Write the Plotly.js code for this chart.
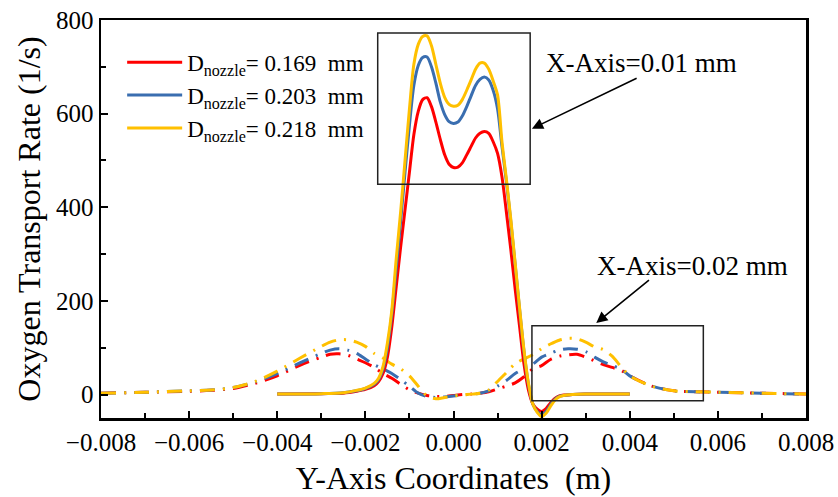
<!DOCTYPE html>
<html>
<head>
<meta charset="utf-8">
<script src="https://cdn.plot.ly/plotly-3.0.1.min.js"></script>
<style>html,body{margin:0;padding:0;background:#fff;}#chart{width:838px;height:497px;}</style>
</head>
<body>
<div id="chart"></div>
<script>
// ---- Data: X-Axis = 0.01 mm (solid curves) ----
var xNear = [-0.004,-0.003,-0.0025,-0.0022,-0.002,-0.0018,-0.0017,-0.0016,-0.0015,-0.0014,-0.0013,-0.0012,-0.0011,-0.001,-0.0009,-0.0008,-0.0007,-0.0006,-0.0005,-0.0004,-0.0003,-0.0002,-0.0001,0,0.0001,0.0002,0.0003,0.0004,0.0005,0.0006,0.0007,0.0008,0.0009,0.001,0.0011,0.0012,0.0013,0.0014,0.0015,0.0016,0.0017,0.0018,0.0019,0.002,0.0021,0.0022,0.0023,0.0024,0.0025,0.0027,0.003,0.004];
var red169Near = [1,2,3,7,11,19,28,45,80,145,230,315,395,475,555,605,630,634,615,582,545,512,492,485,486,495,512,530,548,558,562,558,540,515,465,390,310,225,145,65,10,-20,-31,-36,-30,-18,-8,-3,-1,0,1,1];
var blue203Near = [1,2,4,8,13,22,32,55,100,172,270,370,475,575,660,703,720,721,700,665,625,598,583,579,582,595,615,638,660,673,678,672,650,610,530,455,370,277,182,92,22,-20,-36,-43,-36,-22,-10,-4,-2,0,1,1];
var yellow218Near = [1,2,4,9,14,24,35,60,110,180,290,390,500,610,705,748,765,766,745,705,665,635,620,616,618,630,650,672,695,708,708,695,670,640,540,460,375,280,185,95,25,-20,-38,-47,-40,-25,-12,-5,-2,0,1,1];

// ---- Data: X-Axis = 0.02 mm (dash-dot curves) ----
var xFar = [-0.008,-0.007,-0.006,-0.0055,-0.005,-0.0045,-0.004,-0.0035,-0.003,-0.0028,-0.0026,-0.0024,-0.0022,-0.002,-0.0018,-0.0016,-0.0014,-0.0012,-0.001,-0.0008,-0.0006,-0.0004,-0.0002,0,0.0002,0.0004,0.0006,0.0008,0.001,0.0012,0.0014,0.0016,0.0018,0.002,0.0022,0.0024,0.0026,0.0028,0.003,0.0032,0.0034,0.0036,0.0038,0.004,0.0045,0.005,0.0055,0.006,0.007,0.008];
var red169Far = [3,5,7,9,13,24,40,62,80,86,87,84,76,68,58,45,35,22,10,3,-2,-4,-4,-2,0,1,3,6,12,18,25,38,55,62,75,82,85,86,80,72,64,58,52,40,18,8,6,5,3,1];
var blue203Far = [3,5,8,10,15,27,45,67,88,95,98,95,88,76,64,55,45,32,18,3,-4,-6,-5,-3,-1,1,3,8,18,30,45,55,65,80,88,95,98,97,92,80,70,62,55,40,18,8,6,5,3,1];
var yellow218Far = [3,5,8,10,15,28,50,77,103,112,117,117,112,103,88,78,65,55,40,18,-3,-9,-6,-3,-1,1,3,10,28,47,66,76,85,98,108,116,120,119,112,102,96,82,60,40,18,8,6,5,3,1];

var seriesNames = ['D<sub>nozzle</sub>= 0.169  mm','D<sub>nozzle</sub>= 0.203  mm','D<sub>nozzle</sub>= 0.218  mm'];
var colors = ['#FF0000','#3A6EB0','#FFC000'];
var xTickVals = [-0.008,-0.006,-0.004,-0.002,0,0.002,0.004,0.006,0.008];
var yTickVals = [0,200,400,600,800];

var FONT = 'Liberation Serif, Times New Roman, serif';
var nearY = [red169Near, blue203Near, yellow218Near];
var farY = [red169Far, blue203Far, yellow218Far];
var traces = [];
for (var i = 0; i < 3; i++) {
  traces.push({x: xFar, y: farY[i], mode: 'lines', showlegend: false, hoverinfo: 'skip',
    line: {color: colors[i], width: 3, dash: '15px,8px,2px,8px', shape: 'spline', smoothing: 0.8}});
}
for (var j = 0; j < 3; j++) {
  traces.push({x: xNear, y: nearY[j], mode: 'lines', name: seriesNames[j],
    line: {color: colors[j], width: 3, shape: 'spline', smoothing: 0.8}});
}

var layout = {
  width: 838, height: 497,
  margin: {l: 101, r: 32, t: 20, b: 79},
  paper_bgcolor: '#fff', plot_bgcolor: '#fff',
  font: {family: FONT, color: '#000', size: 23},
  showlegend: true,
  legend: {x: 0.03, y: 0.948, xanchor: 'left', yanchor: 'top', bgcolor: 'rgba(0,0,0,0)',
    itemwidth: 55, font: {family: FONT, size: 23, color: '#000'}, tracegroupgap: 0},
  xaxis: {range: [-0.008, 0.008], tickvals: xTickVals, tickformat: '.3f',
    ticks: 'inside', ticklen: 7, tickwidth: 2, tickcolor: '#000',
    minor: {dtick: 0.001, ticks: 'inside', ticklen: 5, tickwidth: 2, tickcolor: '#000'},
    showline: true, linecolor: '#000', linewidth: 2.5, mirror: true,
    showgrid: false, zeroline: false,
    tickfont: {family: FONT, size: 25, color: '#000'},
    title: {text: 'Y-Axis Coordinates  (m)', font: {family: FONT, size: 32, color: '#000'}, standoff: 12}},
  yaxis: {range: [-50, 800], tickvals: yTickVals,
    ticks: 'inside', ticklen: 7, tickwidth: 2, tickcolor: '#000',
    minor: {dtick: 100, ticks: 'inside', ticklen: 5, tickwidth: 2, tickcolor: '#000'},
    showline: true, linecolor: '#000', linewidth: 2.5, mirror: true,
    showgrid: false, zeroline: false,
    tickfont: {family: FONT, size: 25, color: '#000'},
    title: {text: 'Oxygen Transport Rate (1/s)', font: {family: FONT, size: 32, color: '#000'}, standoff: 6}},
  shapes: [
    {type: 'rect', xref: 'x', yref: 'y', x0: -0.00172, x1: 0.00174, y0: 449, y1: 772,
      line: {color: '#222', width: 1.5}},
    {type: 'rect', xref: 'x', yref: 'y', x0: 0.00178, x1: 0.00567, y0: -13, y1: 147,
      line: {color: '#222', width: 1.5}}
  ],
  annotations: [
    {xref: 'x', yref: 'y', x: 0.00426, y: 708, text: 'X-Axis=0.01 mm', showarrow: false,
      font: {family: FONT, size: 27, color: '#000'}},
    {xref: 'x', yref: 'y', x: 0.00542, y: 274, text: 'X-Axis=0.02 mm', showarrow: false,
      font: {family: FONT, size: 27, color: '#000'}},
    {xref: 'x', yref: 'y', x: 0.00178, y: 568, axref: 'x', ayref: 'y', ax: 0.00419, ay: 677,
      text: '', showarrow: true, arrowhead: 2, arrowsize: 1.4, arrowwidth: 1.6, arrowcolor: '#000', standoff: 0},
    {xref: 'x', yref: 'y', x: 0.00324, y: 153, axref: 'x', ayref: 'y', ax: 0.00447, ay: 247,
      text: '', showarrow: true, arrowhead: 2, arrowsize: 1.4, arrowwidth: 1.6, arrowcolor: '#000', standoff: 0}
  ]
};

Plotly.newPlot('chart', traces, layout, {displayModeBar: false, staticPlot: true});
</script>
</body>
</html>
